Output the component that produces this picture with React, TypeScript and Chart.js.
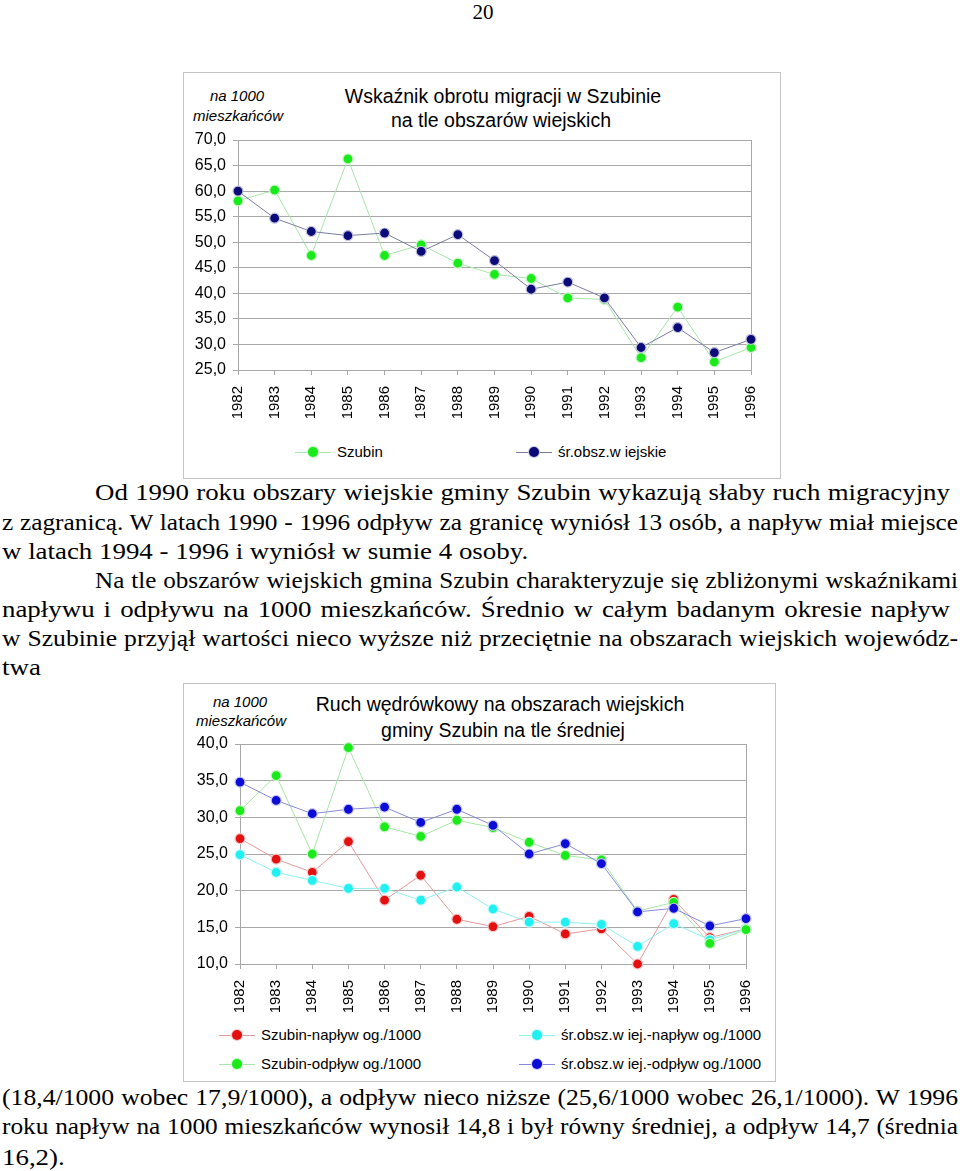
import React, { useEffect, useRef } from "react";
import { Chart, registerables } from "chart.js";

Chart.register(...registerables);

// ---------- DATA ----------
const years = ["1982", "1983", "1984", "1985", "1986", "1987", "1988", "1989", "1990", "1991", "1992", "1993", "1994", "1995", "1996"];

// chart 1: wskaźnik obrotu migracji
const szubinObrot = [58.1, 60.2, 47.4, 66.3, 47.4, 49.5, 45.9, 43.7, 42.9, 39.1, 38.8, 27.4, 37.3, 26.6, 29.4];
const sredniaObrot = [60.0, 54.7, 52.1, 51.3, 51.8, 48.2, 51.5, 46.4, 40.8, 42.2, 39.1, 29.4, 33.3, 28.4, 31.0];

// chart 2: ruch wędrówkowy
const szubinNaplyw = [27.1, 24.3, 22.5, 26.7, 18.7, 22.1, 16.1, 15.1, 16.5, 14.1, 14.8, 10.0, 18.8, 13.6, 14.8];
const sredniaNaplyw = [24.9, 22.5, 21.4, 20.3, 20.3, 18.7, 20.5, 17.5, 15.7, 15.7, 15.4, 12.4, 15.5, 13.3, 14.8];
const szubinOdplyw = [30.9, 35.7, 25.0, 39.5, 28.7, 27.4, 29.6, 28.6, 26.6, 24.8, 24.2, 17.2, 18.4, 12.8, 14.7];
const sredniaOdplyw = [34.8, 32.3, 30.5, 31.1, 31.4, 29.3, 31.1, 28.9, 25.0, 26.4, 23.7, 17.1, 17.6, 15.2, 16.2];

const chart1Range = [25, 70];
const chart2Range = [10, 40];

const chart1Labels = ["Szubin", "śr.obsz.w iejskie"];
const chart2Labels = ["Szubin-napływ og./1000", "śr.obsz.w iej.-napływ og./1000", "Szubin-odpływ og./1000", "śr.obsz.w iej.-odpływ og./1000"];

// ---------- STYLE ----------
const SANS = "'Liberation Sans', Arial, sans-serif";
const SERIF = "'Liberation Serif', 'Times New Roman', serif";
const GRID = "#a8a8a8";

const S = {
  green: { point: "#19ea19", line: "#a6e6a6", ring: "#c8f5c8" },
  navy: { point: "#0a0a78", line: "#7c7ca4", ring: "#c4c4dc" },
  red: { point: "#e41010", line: "#e49a9a", ring: "#f5c8c8" },
  cyan: { point: "#20f0f0", line: "#90f0f0", ring: "#c8fafa" },
  blue: { point: "#0c0cd8", line: "#8888dc", ring: "#c8c8f2" },
};

const fmt = (v: number) => v.toFixed(1).replace(".", ",");

const rightBorder = {
  id: "rightBorder",
  beforeDatasetsDraw(chart: any) {
    const { ctx, chartArea } = chart;
    ctx.save();
    ctx.strokeStyle = GRID;
    ctx.lineWidth = 1;
    ctx.beginPath();
    ctx.moveTo(Math.round(chartArea.right) + 0.5, chartArea.top);
    ctx.lineTo(Math.round(chartArea.right) + 0.5, chartArea.bottom);
    ctx.stroke();
    ctx.restore();
  },
};

function ds(label: string, data: number[], st: any, order: number) {
  return {
    label,
    data,
    borderColor: st.line,
    borderWidth: 1,
    pointRadius: 5,
    pointHoverRadius: 5,
    pointBackgroundColor: st.point,
    pointBorderColor: st.ring,
    pointBorderWidth: 1.2,
    tension: 0,
    clip: false as any,
    order,
  };
}

function makeOptions(range: number[], yWidth: number, padRight: number) {
  return {
    animation: false as const,
    responsive: false,
    maintainAspectRatio: false,
    layout: { padding: { top: 20, right: padRight, left: 0, bottom: 0 } },
    plugins: { legend: { display: false }, tooltip: { enabled: false }, title: { display: false } },
    scales: {
      x: {
        type: "category" as const,
        offset: false,
        grid: { drawOnChartArea: false, drawTicks: true, tickLength: 5, color: GRID },
        border: { display: true, color: GRID },
        ticks: {
          minRotation: 90,
          maxRotation: 90,
          autoSkip: false,
          padding: 11,
          color: "#000",
          font: { family: SANS, size: 15 },
        },
        afterFit: (scale: any) => {
          scale.height = 60;
        },
      },
      y: {
        min: range[0],
        max: range[1],
        grid: { color: GRID, tickLength: 5, drawTicks: true },
        border: { display: true, color: GRID },
        ticks: {
          stepSize: 5,
          padding: 7,
          color: "#000",
          font: { family: SANS, size: 16 },
          callback: (v: any) => fmt(Number(v)),
        },
        afterFit: (scale: any) => {
          scale.width = yWidth;
        },
      },
    },
  };
}

function LineChart({ datasets, range, left, top, width, height, yWidth, padRight }: any) {
  const ref = useRef<HTMLCanvasElement | null>(null);
  useEffect(() => {
    if (!ref.current) return;
    const chart = new Chart(ref.current, {
      type: "line",
      data: { labels: years, datasets },
      options: makeOptions(range, yWidth, padRight) as any,
      plugins: [rightBorder],
    });
    return () => chart.destroy();
  }, []);
  return (
    <canvas
      ref={ref}
      width={width}
      height={height}
      style={{ position: "absolute", left, top, width, height }}
    />
  );
}

function Centered({ cx, y, size, children, italic }: any) {
  return (
    <div
      style={{
        position: "absolute",
        left: cx - 300,
        width: 600,
        top: y - Math.round(size * 0.7),
        textAlign: "center",
        fontFamily: SANS,
        fontSize: size,
        lineHeight: `${Math.round(size * 1.4)}px`,
        fontStyle: italic ? "italic" : "normal",
        color: "#000",
        whiteSpace: "nowrap",
      }}
    >
      {children}
    </div>
  );
}

function LegendItem({ x, y, st, text }: any) {
  return (
    <div style={{ position: "absolute", left: x, top: y - 10, height: 20, whiteSpace: "nowrap" }}>
      <div style={{ position: "absolute", left: 0, top: 10, width: 36, height: 1, background: st.line }} />
      <div
        style={{
          position: "absolute",
          left: 13,
          top: 5,
          width: 10,
          height: 10,
          borderRadius: 5,
          background: st.point,
          boxShadow: `0 0 0 1px ${st.ring}`,
        }}
      />
      <div style={{ position: "absolute", left: 42, top: 0, lineHeight: "20px", fontFamily: SANS, fontSize: 15, color: "#000" }}>
        {text}
      </div>
    </div>
  );
}

const TEXT_SIZE = 24;
const SX = 1.12;
let measureCtx: CanvasRenderingContext2D | null = null;
function measure(text: string) {
  if (!measureCtx) measureCtx = document.createElement("canvas").getContext("2d");
  if (!measureCtx) return 0;
  measureCtx.font = `${TEXT_SIZE}px 'Liberation Serif'`;
  return measureCtx.measureText(text).width;
}

function TextLine({ x, y, right, text, full }: any) {
  const avail = right - x;
  let sx = SX;
  if (full) {
    const natural = measure(text);
    if (natural > 0) sx = Math.min(SX, (avail - 6) / natural);
  }
  const w = avail / sx;
  return (
    <div
      style={{
        position: "absolute",
        left: x,
        top: y - 18,
        width: w,
        transform: `scaleX(${sx})`,
        transformOrigin: "0 0",
        fontFamily: SERIF,
        fontSize: TEXT_SIZE,
        lineHeight: "30px",
        color: "#000",
        textAlign: full ? "justify" : "left",
        textAlignLast: full ? "justify" : "left",
        whiteSpace: "nowrap",
      } as any}
    >
      {text}
    </div>
  );
}

export default function App() {
  const c1 = [ds(chart1Labels[1], sredniaObrot, S.navy, 0), ds(chart1Labels[0], szubinObrot, S.green, 1)];
  const c2 = [
    ds(chart2Labels[3], sredniaOdplyw, S.blue, 0),
    ds(chart2Labels[2], szubinOdplyw, S.green, 1),
    ds(chart2Labels[1], sredniaNaplyw, S.cyan, 2),
    ds(chart2Labels[0], szubinNaplyw, S.red, 3),
  ];
  return (
    <div style={{ position: "absolute", left: 0, top: 0, width: 960, height: 1171, background: "#fff", overflow: "hidden" }}>
      {/* page number */}
      <div style={{ position: "absolute", left: 433, width: 100, top: 0, textAlign: "center", fontFamily: SERIF, fontSize: 21, lineHeight: "24px" }}>
        20
      </div>

      {/* ---------- chart 1 ---------- */}
      <div style={{ position: "absolute", left: 183, top: 72, width: 596, height: 405, border: "1px solid #c4c4c4" }} />
      <Centered cx={237} y={96} size={15} italic>na 1000</Centered>
      <Centered cx={238} y={116} size={15} italic>mieszkańców</Centered>
      <Centered cx={503} y={97} size={19.5}>Wskaźnik obrotu migracji w Szubinie</Centered>
      <Centered cx={501} y={121} size={19.5}>na tle obszarów wiejskich</Centered>
      <LineChart datasets={c1} range={chart1Range} left={183} top={120} width={597} height={310} yWidth={55} padRight={21} />
      <LegendItem x={295} y={452} st={S.green} text={chart1Labels[0]} />
      <LegendItem x={516} y={452} st={S.navy} text={chart1Labels[1]} />

      {/* ---------- text 1 ---------- */}
      <TextLine x={95} y={495} right={950} full text="Od 1990 roku obszary wiejskie gminy Szubin wykazują słaby ruch migracyjny" />
      <TextLine x={2} y={525} right={958} full text="z zagranicą. W latach 1990 - 1996 odpływ za granicę wyniósł 13 osób, a napływ miał miejsce" />
      <TextLine x={2} y={554} right={958} text="w latach 1994 - 1996 i wyniósł w sumie 4 osoby." />
      <TextLine x={95} y={583} right={958} full text="Na tle obszarów wiejskich gmina Szubin charakteryzuje się zbliżonymi wskaźnikami" />
      <TextLine x={2} y={612} right={950} full text="napływu i odpływu na 1000 mieszkańców. Średnio w całym badanym okresie napływ" />
      <TextLine x={2} y={641} right={958} full text="w Szubinie przyjął wartości nieco wyższe niż przeciętnie na obszarach wiejskich wojewódz-" />
      <TextLine x={2} y={670} right={958} text="twa" />

      {/* ---------- chart 2 ---------- */}
      <div style={{ position: "absolute", left: 183, top: 683, width: 591, height: 397, border: "1px solid #c4c4c4" }} />
      <Centered cx={240} y={702} size={15} italic>na 1000</Centered>
      <Centered cx={241} y={721} size={15} italic>mieszkańców</Centered>
      <Centered cx={500} y={705} size={19.5}>Ruch wędrówkowy na obszarach wiejskich</Centered>
      <Centered cx={503} y={731} size={19.5}>gminy Szubin na tle średniej</Centered>
      <LineChart datasets={c2} range={chart2Range} left={183} top={724} width={592} height={300} yWidth={57} padRight={20} />
      <LegendItem x={219} y={1035} st={S.red} text={chart2Labels[0]} />
      <LegendItem x={519} y={1035} st={S.cyan} text={chart2Labels[1]} />
      <LegendItem x={219} y={1064} st={S.green} text={chart2Labels[2]} />
      <LegendItem x={519} y={1064} st={S.blue} text={chart2Labels[3]} />

      {/* ---------- text 2 ---------- */}
      <TextLine x={2} y={1100} right={958} full text="(18,4/1000 wobec 17,9/1000), a odpływ nieco niższe (25,6/1000 wobec 26,1/1000). W 1996" />
      <TextLine x={2} y={1129} right={958} full text="roku napływ na 1000 mieszkańców wynosił 14,8 i był równy średniej, a odpływ 14,7 (średnia" />
      <TextLine x={2} y={1160} right={958} text="16,2)." />
    </div>
  );
}
